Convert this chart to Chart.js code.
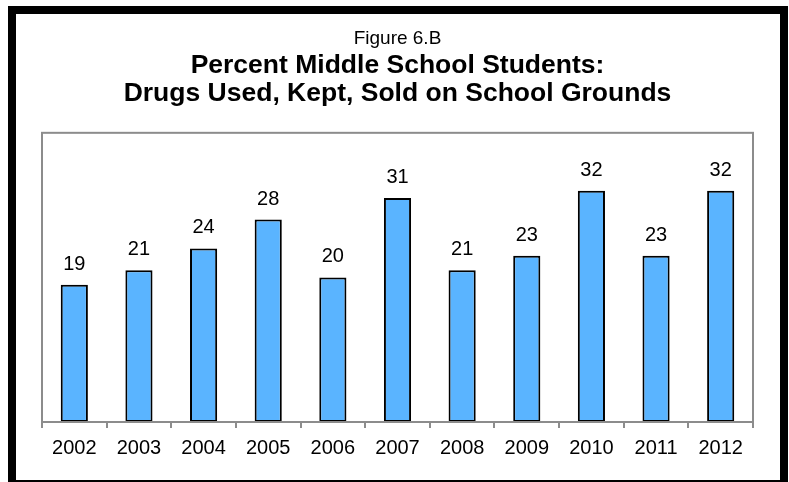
<!DOCTYPE html>
<html>
<head>
<meta charset="utf-8">
<script src="https://cdn.jsdelivr.net/npm/chart.js@4/dist/chart.umd.min.js"></script>
<style>
  html, body { margin: 0; padding: 0; background: #fff; }
  #wrap { width: 789px; height: 482px; position: relative; }
</style>
</head>
<body>
<div id="wrap"><canvas id="chart"></canvas></div>
<script>
const years = ['2002','2003','2004','2005','2006','2007','2008','2009','2010','2011','2012'];
const percents = [19, 21, 24, 28, 20, 31, 21, 23, 32, 23, 32];

// outer black frame + grey plot box
const frame = {
  id: 'frame',
  beforeDraw(chart){
    const c = chart.ctx;
    c.save();
    c.fillStyle = '#fff';
    c.fillRect(0, 0, chart.width, chart.height);
    c.strokeStyle = '#000';
    c.lineWidth = 8;
    c.strokeRect(12, 10, 772, 474);
    c.restore();
  },
  afterDatasetsDraw(chart){
    const a = chart.chartArea, c = chart.ctx;
    c.save();
    c.strokeStyle = '#8c8c8c';
    c.lineWidth = 2;
    c.strokeRect(a.left, a.top, a.right - a.left, a.bottom - a.top);
    c.restore();
  }
};

const valueLabels = {
  id: 'valueLabels',
  afterDatasetsDraw(chart){
    const c = chart.ctx;
    const meta = chart.getDatasetMeta(0);
    c.save();
    c.font = '20px "Liberation Sans", Arial, sans-serif';
    c.fillStyle = '#000';
    c.textAlign = 'center';
    c.textBaseline = 'alphabetic';
    meta.data.forEach((bar, i) => {
      c.fillText(percents[i], bar.x, bar.y - 15);
    });
    c.restore();
  }
};

new Chart(document.getElementById('chart'), {
  type: 'bar',
  data: {
    labels: years,
    datasets: [{
      data: percents,
      backgroundColor: '#5ab4ff',
      borderColor: '#000',
      borderWidth: 2,
      borderSkipped: false,
      barPercentage: 0.42,
      categoryPercentage: 1
    }]
  },
  options: {
    responsive: true,
    maintainAspectRatio: false,
    animation: false,
    layout: { padding: { left: 42, right: 36, top: 0, bottom: 14 } },
    plugins: {
      legend: { display: false },
      tooltip: { enabled: false },
      title: {
        display: true,
        text: 'Figure 6.B',
        color: '#000',
        font: { family: '"Liberation Sans", Arial, sans-serif', size: 19, weight: 'normal', lineHeight: 1.2 },
        padding: { top: 27, bottom: 0 }
      },
      subtitle: {
        display: true,
        text: ['Percent Middle School Students:', 'Drugs Used, Kept, Sold on School Grounds'],
        color: '#000',
        font: { family: '"Liberation Sans", Arial, sans-serif', size: 26.5, weight: 'bold', lineHeight: 1.057 },
        padding: { top: 2, bottom: 25 }
      }
    },
    scales: {
      x: {
        grid: { offset: true, drawOnChartArea: false, tickLength: 6, color: '#8c8c8c', lineWidth: 2 },
        border: { display: true, color: '#8c8c8c', width: 2 },
        ticks: { color: '#000', padding: 8, font: { family: '"Liberation Sans", Arial, sans-serif', size: 20 } }
      },
      y: {
        display: false,
        min: 0,
        max: 40
      }
    }
  },
  plugins: [frame, valueLabels]
});
</script>
</body>
</html>
